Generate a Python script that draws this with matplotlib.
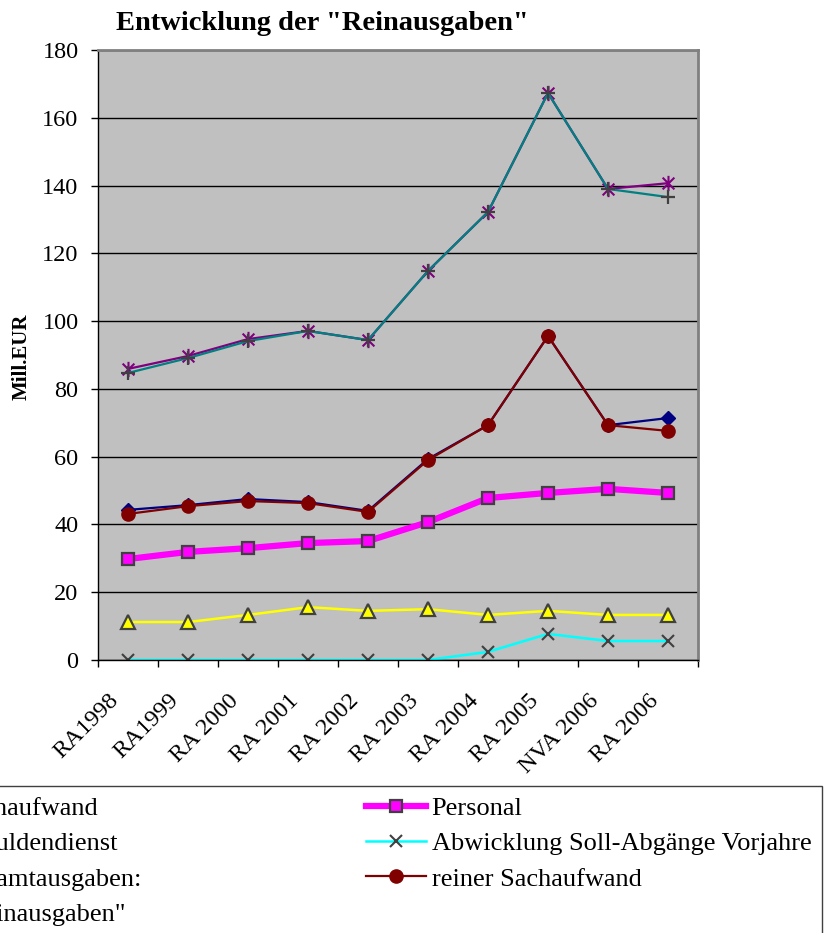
import matplotlib
matplotlib.use("Agg")
import matplotlib.pyplot as plt
from matplotlib.path import Path
from matplotlib.transforms import ScaledTranslation

categories = ["RA1998", "RA1999", "RA 2000", "RA 2001", "RA 2002", "RA 2003",
              "RA 2004", "RA 2005", "NVA 2006", "RA 2006"]

sachaufwand = [44.3, 45.7, 47.5, 46.6, 44.0, 59.3, 69.3, 95.6, 69.3, 71.4]
personal = [29.8, 31.9, 33.0, 34.5, 35.1, 40.7, 47.8, 49.3, 50.5, 49.3]
schuldendienst = [11.2, 11.2, 13.3, 15.6, 14.5, 15.0, 13.3, 14.5, 13.3, 13.3]
abwicklung = [0.0, 0.0, 0.0, 0.0, 0.0, 0.0, 2.4, 7.7, 5.6, 5.6]
gesamtausgaben = [85.9, 89.7, 94.7, 97.1, 94.4, 114.8, 132.2, 167.3, 139.0, 140.7]
reiner_sachaufwand = [43.1, 45.4, 46.9, 46.3, 43.7, 59.0, 69.3, 95.6, 69.3, 67.6]
reinausgaben = [84.7, 89.1, 94.1, 97.1, 94.4, 114.8, 132.2, 167.3, 139.0, 136.6]

labels = ["Sachaufwand", "Personal", "Schuldendienst",
          "Abwicklung Soll-Abgänge Vorjahre", "Gesamtausgaben:",
          "reiner Sachaufwand", '"Reinausgaben"']

plt.rcParams['font.family'] = ['Liberation Serif', 'DejaVu Serif']

W, H = 825, 933
fig = plt.figure(figsize=(W / 100, H / 100), dpi=100)
ax = fig.add_axes([98 / W, 1 - 660 / H, 600 / W, 610 / H])
ax.set_facecolor('#C0C0C0')

x = list(range(len(categories)))
gray = '#404040'
ast = Path([(-1, -1), (1, 1), (-1, 1), (1, -1), (0, -1.3), (0, 1.3)],
           [Path.MOVETO, Path.LINETO] * 3)

h1, = ax.plot(x, sachaufwand, color='#000080', lw=1.6, marker='D', ms=7,
              mfc='#000080', mec='#000080', label=labels[0])
h2, = ax.plot(x, personal, color='#FF00FF', lw=4.5, marker='s', ms=9,
              mfc='#FF00FF', mec=gray, mew=1.6, label=labels[1])
h3, = ax.plot(x, schuldendienst, color='#FFFF00', lw=1.8, marker='^', ms=9.5,
              mfc='#FFFF00', mec=gray, mew=1.6, label=labels[2])
h4, = ax.plot(x, abwicklung, color='#00FFFF', lw=1.8, marker='x', ms=9,
              mec=gray, mew=1.5, label=labels[3])
h5, = ax.plot(x, gesamtausgaben, color='#800080', lw=1.6, marker=ast, ms=11,
              mfc='none', mec='#800080', mew=1.5, label=labels[4])
h6, = ax.plot(x, reiner_sachaufwand, color='#800000', lw=1.6, marker='o', ms=9.5,
              mfc='#800000', mec='#800000', label=labels[5])
h7, = ax.plot(x, reinausgaben, color='#008080', lw=1.6, marker='+', ms=10,
              mec=gray, mew=1.6, label=labels[6])

ax.set_xlim(-0.5, len(categories) - 0.5)
ax.set_ylim(0, 180)
ax.set_yticks(range(0, 181, 20))
ax.yaxis.grid(True, color='black', lw=1)
ax.set_axisbelow(True)
ax.tick_params(axis='y', labelsize=17.5, length=5, width=1, direction='out', pad=9)

ax.set_xticks(x)
ax.set_xticklabels(categories, fontsize=17.5, rotation=45, ha='right',
                   va='center', rotation_mode='anchor')
ax.set_xticks([i - 0.5 for i in range(len(categories) + 1)], minor=True)
ax.tick_params(axis='x', which='major', length=0, pad=27)
ax.tick_params(axis='x', which='minor', length=5, width=1, direction='out')
off = ScaledTranslation(-9 / 72, 0, fig.dpi_scale_trans)
for lab in ax.get_xticklabels():
    lab.set_transform(lab.get_transform() + off)

for s in ['top', 'right']:
    ax.spines[s].set_color('#808080')
    ax.spines[s].set_linewidth(2)
for s in ['left', 'bottom']:
    ax.spines[s].set_color('black')
    ax.spines[s].set_linewidth(1)

fig.text(322 / W, 1 - 24 / H, 'Entwicklung der "Reinausgaben"', fontsize=20.5,
         fontweight='bold', ha='center', va='center')
fig.text(22 / W, 1 - 357 / H, 'Mill.EUR', fontsize=15, fontweight='bold',
         rotation=90, ha='center', va='center')

handles = [h1, h3, h5, h7, h2, h4, h6]
leg = fig.legend(handles, [h.get_label() for h in handles], ncol=2,
                 loc='upper right', bbox_to_anchor=(822 / W, 1 - 786 / H),
                 bbox_transform=fig.transFigure, borderaxespad=0,
                 fontsize=19, handlelength=2.3, handletextpad=0.2,
                 columnspacing=8.45, labelspacing=0.45, borderpad=0.4,
                 fancybox=False, framealpha=1, edgecolor=gray)
leg.get_frame().set_linewidth(1)

fig.savefig('out.png', dpi=100)
